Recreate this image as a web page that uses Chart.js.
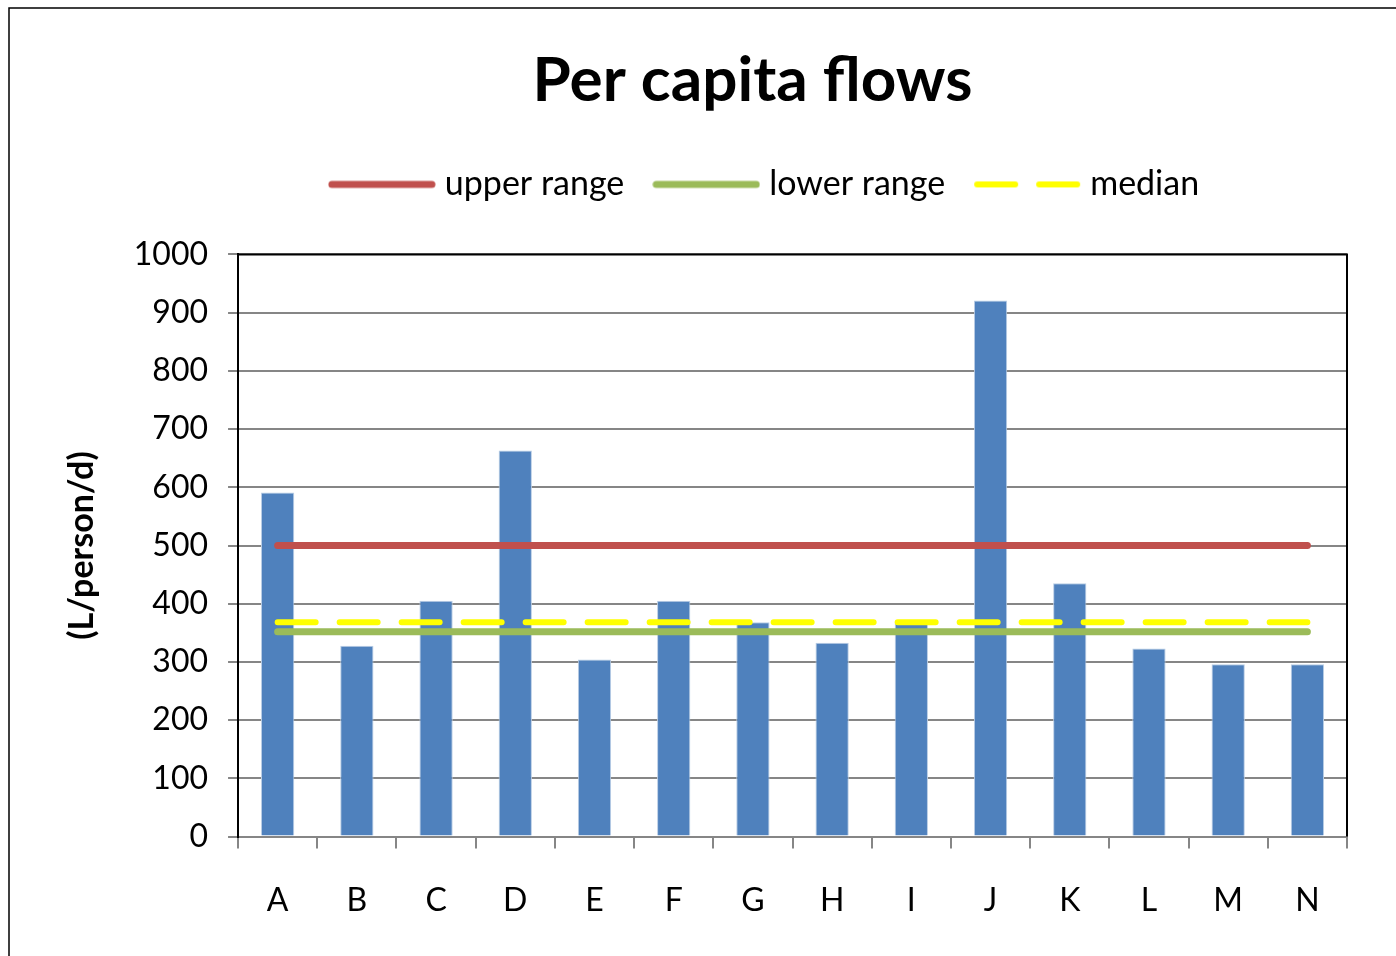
<!DOCTYPE html>
<html>
<head>
<meta charset="utf-8">
<script src="https://cdn.jsdelivr.net/npm/chart.js@4.4.0/dist/chart.umd.min.js"></script>
<style>
  html, body { margin: 0; padding: 0; background: #fff; }
  #wrap { width: 1396px; height: 956px; }
</style>
</head>
<body>
<div id="wrap"><canvas id="flowChart" width="1396" height="956"></canvas></div>
<script>
const categories = ["A", "B", "C", "D", "E", "F", "G", "H", "I", "J", "K", "L", "M", "N"];
const perCapita = [591, 328, 405, 663, 304, 405, 368, 333, 368, 921, 435, 323, 296, 296];
const upperRange = [500, 500, 500, 500, 500, 500, 500, 500, 500, 500, 500, 500, 500, 500];
const lowerRange = [352, 352, 352, 352, 352, 352, 352, 352, 352, 352, 352, 352, 352, 352];
const median = [368, 368, 368, 368, 368, 368, 368, 368, 368, 368, 368, 368, 368, 368];
const yTicks = [0, 100, 200, 300, 400, 500, 600, 700, 800, 900, 1000];

const fontFamily = "Lato, 'Open Sans', sans-serif";
const medianDash = [38, 24];

// legend markers: a small canvas with the line drawn in it
function lineMarker(color, width, dash) {
  const c = document.createElement("canvas");
  c.width = 108;
  c.height = 10;
  const g = c.getContext("2d");
  g.strokeStyle = color;
  g.lineWidth = width;
  g.lineCap = "round";
  g.setLineDash(dash || []);
  g.beginPath();
  g.moveTo(4, 5);
  g.lineTo(104, 5);
  g.stroke();
  return c;
}

// nudge the title and legend to where the original has them
const placePlugin = {
  id: "place",
  afterLayout(chart) {
    const t = chart.titleBlock;
    if (t) {
      t.left += 48;
      t.right += 48;
    }
    const lg = chart.legend;
    if (lg) {
      lg.left += 63;
      lg.right += 63;
      lg.top -= 43;
      lg.bottom -= 43;
    }
  },
};

// frame round the picture and black top/right edge of the plot
const framePlugin = {
  id: "frame",
  afterDraw(chart) {
    const ctx = chart.ctx;
    const a = chart.chartArea;
    ctx.save();
    ctx.strokeStyle = "#000";
    ctx.lineWidth = 2;
    ctx.beginPath();
    ctx.moveTo(a.left, a.top);
    ctx.lineTo(a.right, a.top);
    ctx.lineTo(a.right, a.bottom);
    ctx.stroke();
    ctx.lineWidth = 1.5;
    ctx.strokeRect(9, 8, 1400, 960);
    ctx.restore();
  },
};

const ctx = document.getElementById("flowChart").getContext("2d");

const flowChart = new Chart(ctx, {
  type: "bar",
  data: {
    labels: categories,
    datasets: [
      {
        type: "line",
        label: "upper range",
        data: upperRange,
        borderColor: "#C0504D",
        backgroundColor: "#C0504D",
        borderWidth: 7,
        borderCapStyle: "round",
        pointRadius: 0,
        fill: false,
        order: 1,
      },
      {
        type: "line",
        label: "lower range",
        data: lowerRange,
        borderColor: "#9BBB59",
        backgroundColor: "#9BBB59",
        borderWidth: 7,
        borderCapStyle: "round",
        pointRadius: 0,
        fill: false,
        order: 2,
      },
      {
        type: "line",
        label: "median",
        data: median,
        borderColor: "#FFFF00",
        backgroundColor: "#FFFF00",
        borderWidth: 6,
        borderCapStyle: "round",
        borderDash: medianDash,
        pointRadius: 0,
        fill: false,
        order: 0,
      },
      {
        label: "flows",
        data: perCapita,
        backgroundColor: "#4F81BD",
        borderColor: "#B9CDE5",
        borderWidth: 1,
        barPercentage: 0.84,
        categoryPercentage: 0.5,
        order: 3,
      },
    ],
  },
  plugins: [placePlugin, framePlugin],
  options: {
    responsive: false,
    animation: false,
    layout: {
      padding: { left: 62, right: 49, top: 30, bottom: 3 },
    },
    plugins: {
      title: {
        display: true,
        text: "Per capita flows",
        color: "#000",
        font: { family: fontFamily, size: 62, weight: "bold" },
        padding: { top: 14, bottom: 56 },
      },
      legend: {
        position: "top",
        labels: {
          generateLabels: (chart) => {
            const items = Chart.defaults.plugins.legend.labels.generateLabels(chart);
            return items
              .filter((item) => item.text !== "flows")
              .sort((a, b) => a.datasetIndex - b.datasetIndex)
              .map((item) => {
                const ds = chart.data.datasets[item.datasetIndex];
                item.pointStyle = lineMarker(ds.borderColor, ds.borderWidth, ds.borderDash);
                return item;
              });
          },
          usePointStyle: true,
          pointStyleWidth: 92,
          boxWidth: 92,
          color: "#000",
          font: { family: fontFamily, size: 34 },
          padding: 36,
        },
      },
      tooltip: { enabled: false },
    },
    scales: {
      x: {
        offset: true,
        grid: {
          offset: true,
          drawOnChartArea: false,
          color: "#868686",
          lineWidth: 2,
          tickLength: 12,
        },
        border: { color: "#868686", width: 2 },
        ticks: {
          color: "#000",
          font: { family: fontFamily, size: 32 },
          padding: 33,
        },
      },
      y: {
        min: 0,
        max: 1000,
        afterBuildTicks: (axis) => {
          axis.ticks = yTicks.map((v) => ({ value: v }));
        },
        grid: { color: "#868686", lineWidth: 2, tickLength: 10 },
        border: { color: "#000", width: 2 },
        ticks: {
          color: "#000",
          font: { family: fontFamily, size: 32 },
          padding: 20,
          callback: (v) => String(v),
        },
        title: {
          display: true,
          text: "(L/person/d)",
          color: "#000",
          font: { family: fontFamily, size: 34, weight: "bold" },
          padding: { top: 0, bottom: 11 },
        },
      },
    },
  },
});
</script>
</body>
</html>
